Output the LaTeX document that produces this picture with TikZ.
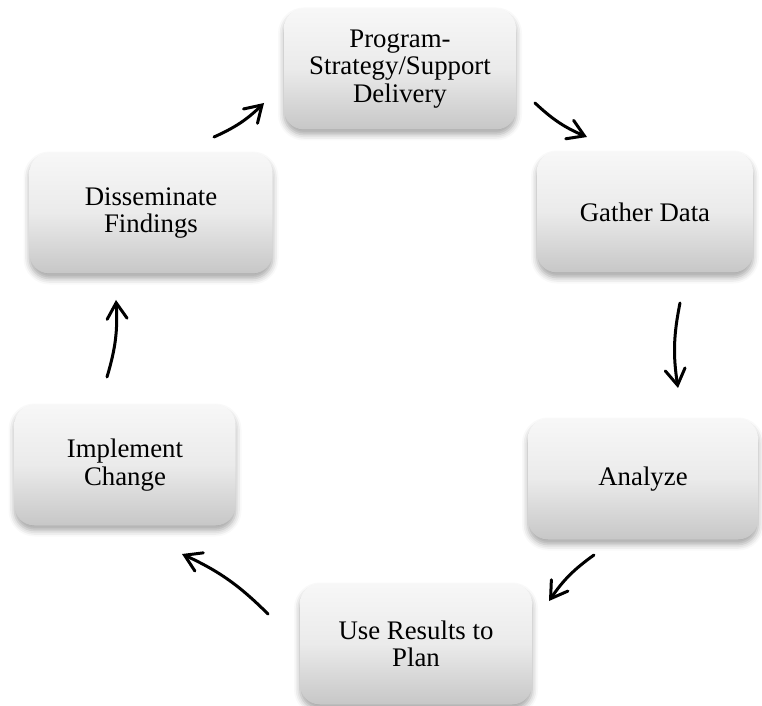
\documentclass[tikz,border=0pt]{standalone}
\usepackage{fontspec}
\setmainfont{Liberation Serif}
\usetikzlibrary{arrows.meta,shadows.blur}

\begin{document}
\begin{tikzpicture}[x=0.5pt, y=-0.5pt,
  fase/.style={rectangle, rounded corners=10pt, minimum height=60.5pt, align=center,
    top color=black!3, bottom color=black!22, middle color=black!8,
    blur shadow={shadow xshift=0pt, shadow yshift=-2.5pt, shadow blur radius=3pt, shadow opacity=35},
    font=\fontsize{13.4}{13.6}\selectfont},
  freccia/.style={line width=1.5pt, line cap=round, line join=round,
    -{Straight Barb[length=8pt, width=10pt, line cap=round]}, bend right=10}]
\useasboundingbox (0,0) rectangle (762,706);
% Fasi del ciclo
\node[fase, minimum width=116pt] (prog) at (400,69) {Program-\\Strategy/Support\\Delivery};
\node[fase, minimum width=108pt] (dati) at (645,212) {Gather Data};
\node[fase, minimum width=115pt] (anal) at (643,479) {Analyze};
\node[fase, minimum width=116pt] (piano) at (416,644) {Use Results to\\Plan};
\node[fase, minimum width=110.5pt] (impl) at (125,465) {Implement\\Change};
\node[fase, minimum width=121.5pt] (diff) at (151,213) {Disseminate\\Findings};
% Estremi delle frecce
\coordinate (p1) at (535,103); \coordinate (g1) at (587,137);
\coordinate (g2) at (680,303); \coordinate (a2) at (678,388);
\coordinate (a3) at (594,555); \coordinate (u3) at (549,601);
\coordinate (u4) at (268,614); \coordinate (i4) at (182,554);
\coordinate (i5) at (107,377); \coordinate (d5) at (116,300);
\coordinate (d6) at (214,137); \coordinate (p6) at (264,103);
% Frecce (senso orario)
\draw[freccia] (p1) to (g1);
\draw[freccia] (g2) to (a2);
\draw[freccia] (a3) to (u3);
\draw[freccia] (u4) to (i4);
\draw[freccia] (i5) to (d5);
\draw[freccia] (d6) to (p6);
\end{tikzpicture}
\end{document}
